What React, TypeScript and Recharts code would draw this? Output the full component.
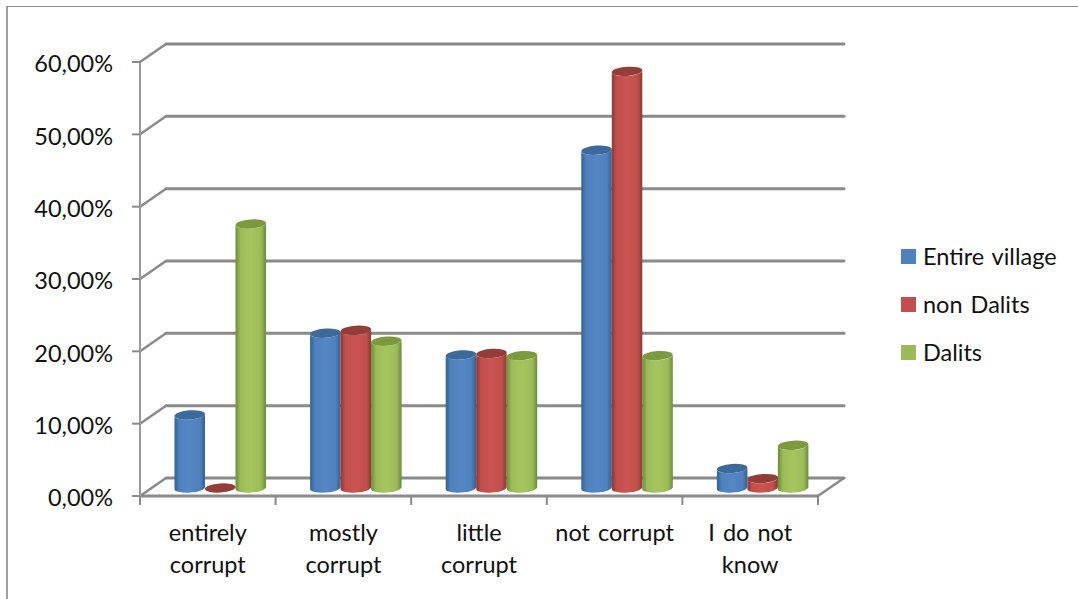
import { BarChart, Bar, XAxis, YAxis, CartesianGrid, Legend } from 'recharts';

const categories = ['entirely corrupt', 'mostly corrupt', 'little corrupt', 'not corrupt', 'I do not know'];
const entireVillage = [10.1, 21.4, 18.4, 46.7, 2.7];
const nonDalits = [0, 21.8, 18.6, 57.6, 1.3];
const dalits = [36.5, 20.3, 18.3, 18.3, 5.9];
const yTicks = [0, 10, 20, 30, 40, 50, 60];

const data = categories.map((name, i) => ({
  name,
  entireVillage: entireVillage[i],
  nonDalits: nonDalits[i],
  dalits: dalits[i],
}));

const series = [
  { key: 'entireVillage', label: 'Entire village', color: '#4f81bd', edge: '#35608f', mid: '#5687c5', cap: '#3d699c' },
  { key: 'nonDalits', label: 'non Dalits', color: '#c0504d', edge: '#8c3836', mid: '#cb5451', cap: '#943c3a' },
  { key: 'dalits', label: 'Dalits', color: '#9bbb59', edge: '#6d8a38', mid: '#a5c65e', cap: '#7b9a3e' },
];

const FONT = 'Lato, "Open Sans", sans-serif';
const TEXT_COLOR = '#111';
const AXIS_GREY = '#8a8a8a';
const DEPTH_X = 26;
const DEPTH_Y = 18;
const PLOT_BOTTOM = 496;
const TICK_LENGTH = 9;

function formatPercent(v: number) {
  return `${v.toFixed(2).replace('.', ',')}%`;
}

function wrapLabel(label: string, maxChars = 11) {
  const lines: string[] = [];
  for (const word of label.split(' ')) {
    const last = lines[lines.length - 1];
    if (last && `${last} ${word}`.length <= maxChars) lines[lines.length - 1] = `${last} ${word}`;
    else lines.push(word);
  }
  return lines;
}

// back wall line plus the side wall diagonal running to the front axis
function WallLine(props: any) {
  const { x1, x2, y1 } = props;
  const isFloor = y1 >= PLOT_BOTTOM - 1;
  return (
    <g fill="none" stroke={AXIS_GREY} strokeLinecap="round">
      <line x1={x1 + DEPTH_X} x2={x2 + DEPTH_X} y1={y1 - DEPTH_Y} y2={y1 - DEPTH_Y} strokeWidth={3} />
      <line x1={x1} x2={x1 + DEPTH_X} y1={y1} y2={y1 - DEPTH_Y} strokeWidth={2.5} />
      {isFloor && <line x1={x2} x2={x2 + DEPTH_X} y1={y1} y2={y1 - DEPTH_Y} strokeWidth={2.5} />}
    </g>
  );
}

// cylinder standing mid depth on the floor
function Cylinder(props: any) {
  const { x, y, width, height, gradientId, capColor } = props;
  const rx = width / 2;
  const ry = 4.6;
  const tilt = 1.2;
  const left = x + 12.5;
  const right = left + width;
  const top = y - 8;
  const base = top + height;
  const body = [
    `M${left} ${top + tilt}`,
    `L${left} ${base + tilt}`,
    `A${rx} ${ry} -4 0 0 ${right} ${base - tilt}`,
    `L${right} ${top - tilt}`,
    `A${rx} ${ry} -4 0 1 ${left} ${top + tilt}`,
    'Z',
  ].join(' ');
  return (
    <g>
      <path d={body} fill={`url(#${gradientId})`} />
      <ellipse cx={left + rx} cy={top} rx={rx} ry={ry} fill={capColor} transform={`rotate(-4 ${left + rx} ${top})`} />
    </g>
  );
}

// wrapped label, with tick marks on the category boundaries instead of the band centre
function CategoryTick({ x, width, index, payload }: any) {
  const halfBand = width / categories.length / 2;
  const edges = index === categories.length - 1 ? [x - halfBand, x + halfBand] : [x - halfBand];
  return (
    <g>
      {edges.map((edge) => (
        <line key={edge} x1={edge} x2={edge} y1={PLOT_BOTTOM} y2={PLOT_BOTTOM + TICK_LENGTH} stroke={AXIS_GREY} strokeWidth={2} />
      ))}
      <text textAnchor="middle" fontFamily={FONT} fontSize={23.5} fill={TEXT_COLOR} wordSpacing={2}>
        {wrapLabel(payload.value).map((line, i) => (
          <tspan key={line} x={x} y={541 + i * 32}>
            {line}
          </tspan>
        ))}
      </text>
    </g>
  );
}

function LegendList({ payload }: any) {
  return (
    <div style={{ fontFamily: FONT, fontSize: 23.5, color: TEXT_COLOR, wordSpacing: 2 }}>
      {(payload ?? []).map((item: any) => (
        <div key={item.value} style={{ display: 'flex', alignItems: 'center', height: 48 }}>
          <span style={{ width: 15, height: 15, background: item.color, marginRight: 7 }} />
          {item.value}
        </div>
      ))}
    </div>
  );
}

export default function App() {
  return (
    <div style={{ position: 'absolute', left: 0, top: 0, width: 1078, height: 599, background: '#fff', overflow: 'hidden' }}>
      <div style={{ position: 'absolute', left: 6, top: 6, right: -2, bottom: -2, borderLeft: '2px solid #a0a0a0', borderTop: '1px solid #8c8c8c' }} />
      <BarChart
        width={1078}
        height={599}
        data={data}
        margin={{ top: 62, right: 260, bottom: 43, left: 40 }}
        barSize={30.5}
        barGap={0}
        style={{ position: 'absolute', left: 0, top: 0 }}
      >
        <defs>
          {series.map((s) => (
            <linearGradient key={s.key} id={`cyl-${s.key}`} x1="0" y1="0" x2="1" y2="0">
              <stop offset="0%" stopColor={s.edge} />
              <stop offset="16%" stopColor={s.color} />
              <stop offset="50%" stopColor={s.mid} />
              <stop offset="84%" stopColor={s.color} />
              <stop offset="100%" stopColor={s.edge} />
            </linearGradient>
          ))}
        </defs>
        <CartesianGrid vertical={false} horizontal={WallLine} />
        <XAxis
          dataKey="name"
          height={60}
          axisLine={{ stroke: AXIS_GREY, strokeWidth: 3 }}
          tickLine={false}
          interval={0}
          tick={<CategoryTick />}
        />
        <YAxis
          width={100}
          domain={[0, 60]}
          ticks={yTicks}
          tickFormatter={formatPercent}
          tickSize={8}
          tickMargin={19}
          axisLine={{ stroke: '#9a9a9a', strokeWidth: 2 }}
          tickLine={{ stroke: AXIS_GREY, strokeWidth: 2 }}
          tick={{ fontFamily: FONT, fontSize: 23.5, fill: TEXT_COLOR, dy: 2 }}
        />
        <Legend
          layout="horizontal"
          align="center"
          verticalAlign="middle"
          itemSorter={null}
          content={<LegendList />}
          wrapperStyle={{ left: 901, top: 232, width: 170 }}
        />
        {series.map((s) => (
          <Bar
            key={s.key}
            dataKey={s.key}
            name={s.label}
            fill={s.color}
            isAnimationActive={false}
            shape={(p: any) => <Cylinder {...p} gradientId={`cyl-${s.key}`} capColor={s.cap} />}
          />
        ))}
      </BarChart>
    </div>
  );
}
